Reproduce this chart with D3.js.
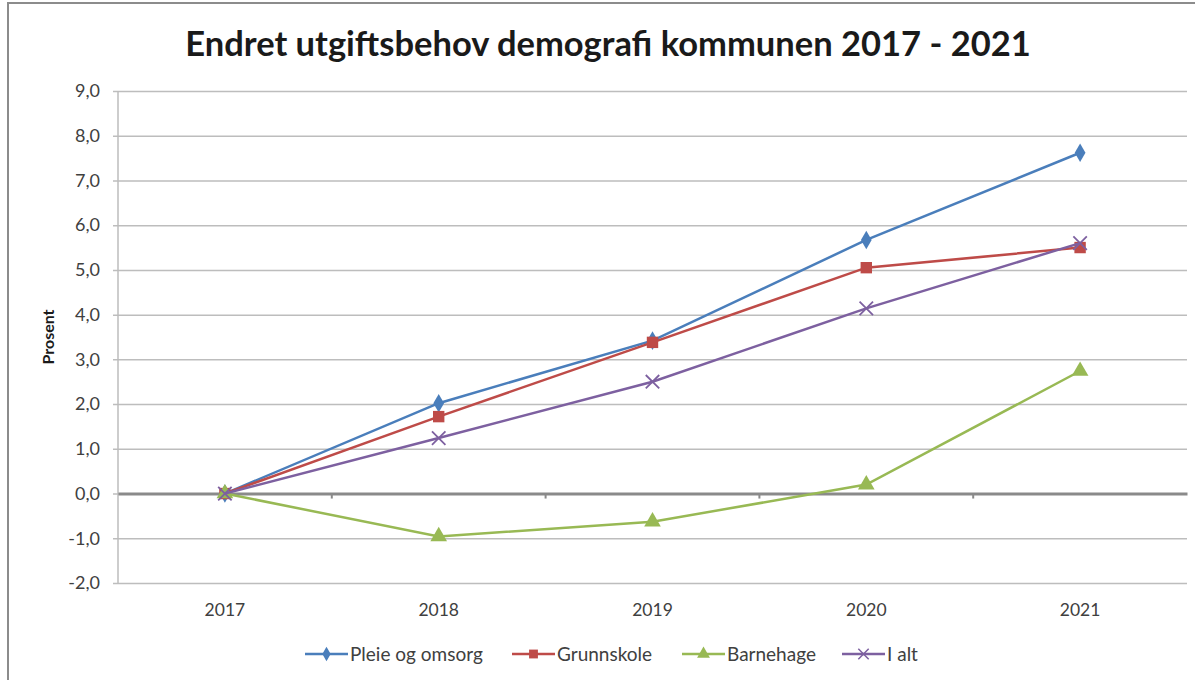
<!DOCTYPE html>
<meta charset="utf-8">
<style>
    body { margin: 0; background: #fff; }
    text { font-family: Lato, "Open Sans", sans-serif; }
</style>
<script src="https://d3js.org/d3.v7.min.js"></script>
<div id="chart"></div>
<script>
    // data
    var years = ["2017", "2018", "2019", "2020", "2021"];
    var pleie = [0, 2.02, 3.42, 5.67, 7.62];
    var grunnskole = [0, 1.72, 3.38, 5.05, 5.5];
    var barnehage = [0, -0.96, -0.63, 0.2, 2.74];
    var ialt = [0, 1.24, 2.5, 4.14, 5.6];
    var yTicks = [-2, -1, 0, 1, 2, 3, 4, 5, 6, 7, 8, 9];

    var series = [
        {name: "Pleie og omsorg", values: pleie, color: "#4a7ebb", marker: "diamond"},
        {name: "Grunnskole", values: grunnskole, color: "#be4b48", marker: "square"},
        {name: "Barnehage", values: barnehage, color: "#98b954", marker: "triangle"},
        {name: "I alt", values: ialt, color: "#7d60a0", marker: "cross"}
    ];

    var W = 1195, H = 680;
    var margin = {top: 91, left: 118},
        width = 1187 - margin.left,
        height = 583 - margin.top;

    var svg = d3.select("#chart").append("svg")
        .attr("width", W)
        .attr("height", H);

    // outer chart frame
    svg.append("rect")
        .attr("x", 8).attr("y", 3)
        .attr("width", 1220).attr("height", 720)
        .attr("fill", "#fff")
        .attr("stroke", "#8c8c8c")
        .attr("stroke-width", 2);

    svg.append("text")
        .attr("x", 608)
        .attr("y", 56)
        .attr("text-anchor", "middle")
        .style("font-size", "34.5px")
        .style("font-weight", "bold")
        .attr("fill", "#1a1a1a")
        .text("Endret utgiftsbehov demografi kommunen 2017 - 2021");

    var g = svg.append("g")
        .attr("transform", "translate(" + margin.left + "," + margin.top + ")");

    var x = d3.scaleBand().domain(years).range([0, width]);
    var y = d3.scaleLinear().domain([-2, 9]).range([height, 0]);

    // norwegian style: comma decimal, plain hyphen minus
    function fmt(d) {
        return d3.format(".1f")(d).replace(".", ",").replace("\u2212", "-");
    }

    // horizontal gridlines + y axis labels
    var yAxis = g.append("g")
        .call(d3.axisLeft(y).tickValues(yTicks).tickSize(-width).tickPadding(18)
            .tickFormat(fmt));
    yAxis.select(".domain").remove();
    yAxis.selectAll(".tick line")
        .attr("stroke", "#bdbdbd")
        .attr("stroke-width", 1.5)
        .attr("x1", -5);
    yAxis.selectAll(".tick text")
        .attr("fill", "#404040")
        .style("font-size", "18px")
        .style("font-family", "Lato, sans-serif");

    g.append("line")
        .attr("x1", 0).attr("x2", 0)
        .attr("y1", 0).attr("y2", height)
        .attr("stroke", "#bdbdbd")
        .attr("stroke-width", 1.5);

    // zero axis with category tick marks
    var xAxis = g.append("g")
        .attr("transform", "translate(0," + y(0) + ")")
        .call(d3.axisBottom(x).tickSize(0).tickFormat(""));
    xAxis.select(".domain")
        .attr("stroke", "#8a8a8a")
        .attr("stroke-width", 3);
    g.selectAll(".cattick")
        .data(years.slice(1))
        .enter().append("line")
        .attr("x1", function(d) { return x(d); })
        .attr("x2", function(d) { return x(d); })
        .attr("y1", y(0))
        .attr("y2", y(0) + 5)
        .attr("stroke", "#8a8a8a")
        .attr("stroke-width", 2);

    // category labels below plot
    g.selectAll(".yearlabel")
        .data(years)
        .enter().append("text")
        .attr("x", function(d) { return x(d) + x.bandwidth() / 2; })
        .attr("y", height + 33)
        .attr("text-anchor", "middle")
        .attr("fill", "#404040")
        .style("font-size", "17.5px")
        .text(function(d) { return d; });

    svg.append("text")
        .attr("transform", "translate(54,337) rotate(-90)")
        .attr("text-anchor", "middle")
        .style("font-size", "16px")
        .style("font-weight", "bold")
        .attr("fill", "#1a1a1a")
        .text("Prosent");

    function markerPath(type, k) {
        k = k || 1;
        if (type === "diamond") return d3.symbol(d3.symbolDiamond, 100 * k)();
        if (type === "square") return d3.symbol(d3.symbolSquare, 130 * k)();
        if (type === "triangle") return d3.symbol(d3.symbolTriangle, 120 * k)();
        return d3.symbol(d3.symbolTimes, 120 * k)();
    }

    var line = d3.line()
        .x(function(d, i) { return x(years[i]) + x.bandwidth() / 2; })
        .y(function(d) { return y(d); });

    series.forEach(function(s) {
        g.append("path")
            .datum(s.values)
            .attr("fill", "none")
            .attr("stroke", s.color)
            .attr("stroke-width", 2.5)
            .attr("d", line);

        g.selectAll(null)
            .data(s.values)
            .enter().append("path")
            .attr("transform", function(d, i) {
                return "translate(" + (x(years[i]) + x.bandwidth() / 2) + "," + y(d) + ")";
            })
            .attr("d", markerPath(s.marker))
            .attr("fill", s.marker === "cross" ? "none" : s.color)
            .attr("stroke", s.color)
            .attr("stroke-width", s.marker === "cross" ? 1.8 : 0);
    });

    // legend
    var legendX = [305, 512, 682, 842];
    var legend = svg.selectAll(".legend")
        .data(series)
        .enter().append("g")
        .attr("transform", function(d, i) { return "translate(" + legendX[i] + ",654)"; });
    legend.append("line")
        .attr("x1", 0).attr("x2", 43)
        .attr("stroke", function(d) { return d.color; })
        .attr("stroke-width", 2.5);
    legend.append("path")
        .attr("transform", "translate(21.5,0)")
        .attr("d", function(d) { return markerPath(d.marker, 0.6); })
        .attr("fill", function(d) { return d.marker === "cross" ? "none" : d.color; })
        .attr("stroke", function(d) { return d.color; })
        .attr("stroke-width", function(d) { return d.marker === "cross" ? 1.5 : 0; });
    legend.append("text")
        .attr("x", 45)
        .attr("dy", "0.35em")
        .attr("fill", "#404040")
        .style("font-size", "19px")
        .text(function(d) { return d.name; });
</script>
